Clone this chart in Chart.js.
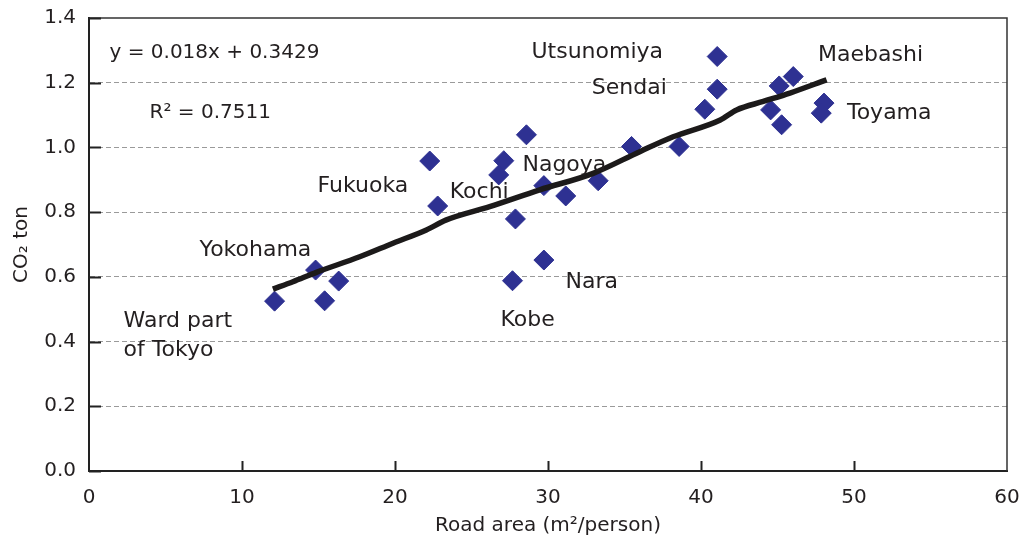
<!DOCTYPE html>
<html>
<head>
<meta charset="utf-8">
<script src="https://cdn.jsdelivr.net/npm/chart.js@4.4.1/dist/chart.umd.min.js"></script>
<style>
  html, body { margin: 0; padding: 0; background: #fff; }
  canvas { display: block; }
</style>
</head>
<body>
<canvas id="myChart" width="1021" height="544"></canvas>
<script>
// Superficie vial por persona (m2) y CO2 por persona (t) de cada ciudad
const roadArea = [12.13, 14.81, 15.40, 16.32, 22.27, 22.79, 27.11, 26.78, 28.59, 29.73, 31.16, 33.28, 35.46, 38.57,
  27.87, 29.73, 27.68, 41.06, 41.06, 40.25, 45.11, 46.03, 44.55, 45.27, 48.04, 47.86];
const co2Ton = [0.525, 0.621, 0.526, 0.587, 0.958, 0.819, 0.959, 0.915, 1.039, 0.882, 0.850, 0.897, 1.003, 1.003,
  0.779, 0.652, 0.588, 1.281, 1.180, 1.118, 1.190, 1.219, 1.116, 1.070, 1.137, 1.106];

// Curva de tendencia (trazo leído punto a punto)
const trendX = [12.02, 13.33, 14.86, 17.69, 19.87, 22.05, 23.36, 26.19, 29.46, 32.95, 36.00, 38.18, 41.26, 42.33, 44.07, 45.81, 48.21];
const trendY = [0.562, 0.585, 0.614, 0.662, 0.704, 0.745, 0.776, 0.817, 0.869, 0.920, 0.987, 1.033, 1.085, 1.116, 1.142, 1.168, 1.209];

// Ticks de los ejes
const xTicks = [0, 10, 20, 30, 40, 50, 60];
const yTicks = [0.0, 0.2, 0.4, 0.6, 0.8, 1.0, 1.2, 1.4];

// Textos dentro del área de la gráfica (texto, x, y en unidades de los ejes)
const cityNames = ['Utsunomiya', 'Sendai', 'Maebashi', 'Toyama', 'Fukuoka', 'Kochi', 'Nagoya',
  'Yokohama', 'Ward part', 'of Tokyo', 'Nara', 'Kobe'];
const cityLabelX = [28.92, 32.86, 47.65, 49.54, 14.94, 23.58, 28.33, 7.23, 2.26, 2.26, 31.14, 26.89];
const cityLabelY = [1.295, 1.184, 1.286, 1.107, 0.881, 0.862, 0.946, 0.683, 0.462, 0.374, 0.582, 0.465];
const eqText = ['y = 0.018x + 0.3429', 'R\u00B2 = 0.7511'];
const eqX = [1.34, 3.96];
const eqY = [1.292, 1.107];

const TEXT = '#231f20';
Chart.defaults.font.family = "'DejaVu Sans', sans-serif";
Chart.defaults.color = TEXT;

// Marco superior/derecho y ticks hacia dentro
const marcoPlugin = {
  id: 'marco',
  beforeDatasetsDraw(chart) {
    const {ctx, chartArea: a, scales} = chart;
    ctx.save();
    ctx.strokeStyle = '#333';
    ctx.lineWidth = 1.5;
    ctx.beginPath();
    ctx.moveTo(a.left, a.top);
    ctx.lineTo(a.right, a.top);
    ctx.lineTo(a.right, a.bottom);
    ctx.stroke();

    ctx.strokeStyle = '#222';
    ctx.lineWidth = 2;
    ctx.beginPath();
    yTicks.forEach(v => {
      const py = Math.round(scales.y.getPixelForValue(v)) + 0.5;
      ctx.moveTo(a.left, py);
      ctx.lineTo(a.left + 12, py);
    });
    xTicks.slice(1, -1).forEach(v => {
      const px = Math.round(scales.x.getPixelForValue(v)) + 0.5;
      ctx.moveTo(px, a.bottom);
      ctx.lineTo(px, a.bottom - 10);
    });
    ctx.stroke();
    ctx.restore();
  }
};

// Nombres de ciudades y ecuación de la regresión
const textosPlugin = {
  id: 'textos',
  afterDatasetsDraw(chart) {
    const {ctx, scales} = chart;
    ctx.save();
    ctx.fillStyle = TEXT;
    ctx.textAlign = 'left';
    ctx.textBaseline = 'middle';
    ctx.font = "22px 'DejaVu Sans', sans-serif";
    cityNames.forEach((t, i) => {
      ctx.fillText(t, scales.x.getPixelForValue(cityLabelX[i]), scales.y.getPixelForValue(cityLabelY[i]));
    });
    ctx.font = "20px 'DejaVu Sans', sans-serif";
    eqText.forEach((t, i) => {
      ctx.fillText(t, scales.x.getPixelForValue(eqX[i]), scales.y.getPixelForValue(eqY[i]));
    });
    ctx.restore();
  }
};

const ctx = document.getElementById('myChart').getContext('2d');
const myChart = new Chart(ctx, {
  type: 'scatter',
  data: {
    datasets: [{
      type: 'line',
      label: 'tendencia',
      data: trendX.map((x, i) => ({x: x, y: trendY[i]})),
      borderColor: '#1c1a1a',
      borderWidth: 5.5,
      borderCapStyle: 'butt',
      borderJoinStyle: 'round',
      pointRadius: 0,
      cubicInterpolationMode: 'monotone',
      fill: false,
      order: 0
    }, {
      label: 'ciudades',
      data: roadArea.map((x, i) => ({x: x, y: co2Ton[i]})),
      pointStyle: 'rectRot',
      pointRadius: 10,
      pointBackgroundColor: '#2e3192',
      pointBorderColor: '#2e3192',
      pointBorderWidth: 1,
      order: 1
    }]
  },
  options: {
    responsive: false,
    animation: false,
    layout: { padding: { left: 0, top: 18, right: 14, bottom: 0 } },
    plugins: {
      legend: { display: false },
      tooltip: { enabled: false }
    },
    scales: {
      x: {
        type: 'linear',
        min: 0,
        max: 60,
        afterFit: s => { s.height = 73; s.paddingLeft = 0; s.paddingRight = 0; },
        afterBuildTicks: s => { s.ticks = xTicks.map(v => ({value: v})); },
        grid: { display: false, drawTicks: false },
        border: { display: true, color: '#222', width: 2 },
        ticks: { padding: 15, font: { size: 20 }, color: TEXT },
        title: {
          display: true,
          text: 'Road area (m\u00B2/person)',
          font: { size: 20 },
          color: TEXT,
          padding: { top: 0, bottom: 6 }
        }
      },
      y: {
        type: 'linear',
        min: 0,
        max: 1.4,
        afterFit: s => { s.width = 89; s.paddingTop = 0; s.paddingBottom = 0; },
        afterBuildTicks: s => { s.ticks = yTicks.map(v => ({value: v})); },
        grid: {
          drawTicks: false,
          lineWidth: 1,
          color: c => (c.tick && (c.tick.value === 0 || c.tick.value === 1.4)) ? 'rgba(0,0,0,0)' : '#9a9a9a'
        },
        border: { display: true, color: '#222', width: 2, dash: [5, 3] },
        ticks: {
          padding: 13,
          font: { size: 20 },
          color: TEXT,
          callback: v => Number(v).toFixed(1)
        },
        title: {
          display: true,
          text: 'CO\u2082 ton',
          font: { size: 20 },
          color: TEXT,
          padding: { top: 10, bottom: 0 }
        }
      }
    }
  },
  plugins: [marcoPlugin, textosPlugin]
});
</script>
</body>
</html>
